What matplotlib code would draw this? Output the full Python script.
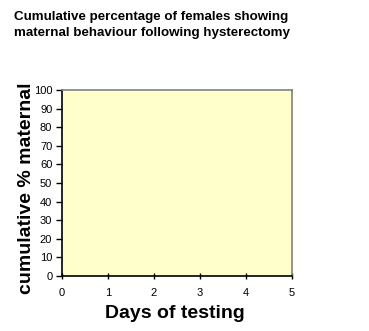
import matplotlib
matplotlib.use("Agg")
import matplotlib.pyplot as plt

plt.rcParams['font.family'] = ['Liberation Sans', 'DejaVu Sans']

days_ticks = [0, 1, 2, 3, 4, 5]
pct_ticks = [0, 10, 20, 30, 40, 50, 60, 70, 80, 90, 100]
title = "Cumulative percentage of females showing\nmaternal behaviour following hysterectomy"
xlabel = "Days of testing"
ylabel = "cumulative % maternal"

W, H = 369, 331
fig = plt.figure(figsize=(W / 100, H / 100), dpi=100)
ax = fig.add_axes([62 / W, 1 - 276 / H, 230 / W, 186 / H])
ax.set_facecolor('#FFFFCC')
ax.set_xlim(days_ticks[0], days_ticks[-1])
ax.set_ylim(pct_ticks[0], pct_ticks[-1])
ax.set_xticks(days_ticks)
ax.set_yticks(pct_ticks)
ax.tick_params(axis='y', direction='out', length=4, width=1, labelsize=8, pad=3)
ax.tick_params(axis='x', direction='inout', length=5, width=1, labelsize=8, pad=6)

for s in ['top', 'right']:
    ax.spines[s].set_color('#808080')
    ax.spines[s].set_linewidth(1.2)
for s in ['left', 'bottom']:
    ax.spines[s].set_color('black')
    ax.spines[s].set_linewidth(1.2)

# axis titles
fig.text(175 / W, 1 - 314 / H, xlabel, fontsize=14, fontweight='bold',
         ha='center', va='center')
fig.text(27 / W, 1 - 188 / H, ylabel, fontsize=14, fontweight='bold',
         ha='center', va='center', rotation=90)

fig.text(14 / W, 1 - 11 / H, title, fontsize=9.6, fontweight='bold',
         ha='left', va='top', linespacing=1.4)

fig.savefig('out.png', dpi=100)
